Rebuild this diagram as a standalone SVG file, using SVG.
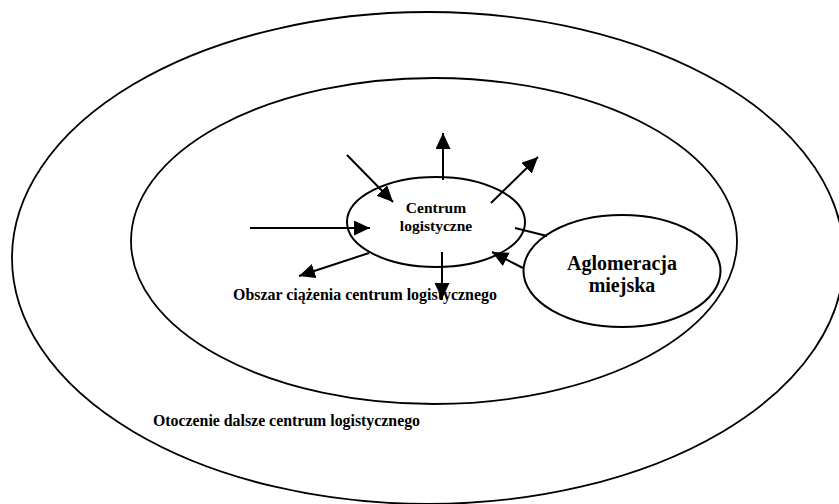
<svg xmlns="http://www.w3.org/2000/svg" width="839" height="504" viewBox="0 0 839 504">
<style>
.shape{fill:none;stroke:#000;stroke-width:2}
.ring{fill:none;stroke:#000;stroke-width:1.8}
.lbl{font-family:"Liberation Serif","Times New Roman",serif;font-weight:bold;fill:#000}
.conn{stroke:#000;stroke-width:2;fill:none}
</style>
<defs>
<marker id="ah" markerUnits="userSpaceOnUse" markerWidth="17" markerHeight="16" refX="16" refY="7.5" orient="auto">
<path d="M0,0 L16,7.5 L0,15 Z" fill="#000"/>
</marker>
</defs>
<rect width="839" height="504" fill="#fff"/>
<g id="otoczenie">
<ellipse class="ring" cx="428" cy="258" rx="416" ry="246"/>
<text class="lbl" x="153" y="426" font-size="16" textLength="267" lengthAdjust="spacingAndGlyphs">Otoczenie dalsze centrum logistycznego</text>
</g>
<g id="obszar">
<ellipse class="ring" cx="434" cy="241" rx="303" ry="163"/>
<text class="lbl" x="233" y="300" font-size="16" textLength="264" lengthAdjust="spacingAndGlyphs">Obszar ciążenia centrum logistycznego</text>
</g>
<g id="centrum">
<ellipse class="shape" cx="436" cy="222" rx="89" ry="45"/>
<text class="lbl" x="436" y="213" font-size="15.5" text-anchor="middle">Centrum</text>
<text class="lbl" x="436" y="231" font-size="15.5" text-anchor="middle">logistyczne</text>
</g>
<g id="aglomeracja">
<ellipse class="shape" cx="622" cy="271" rx="98.5" ry="56"/>
<text class="lbl" x="622" y="270" font-size="20" text-anchor="middle">Aglomeracja</text>
<text class="lbl" x="622" y="292" font-size="20" text-anchor="middle">miejska</text>
</g>
<g id="connectors">
<line class="conn" x1="443" y1="180" x2="443" y2="133" marker-end="url(#ah)"/>
<line class="conn" x1="347" y1="155" x2="393" y2="202" marker-end="url(#ah)"/>
<line class="conn" x1="491" y1="203" x2="538" y2="157" marker-end="url(#ah)"/>
<line class="conn" x1="250" y1="228" x2="370" y2="228" marker-end="url(#ah)"/>
<line class="conn" x1="369" y1="253" x2="299" y2="276" marker-end="url(#ah)"/>
<line class="conn" x1="442" y1="252" x2="442" y2="299" marker-end="url(#ah)"/>
<line class="conn" x1="523" y1="268" x2="492" y2="252" marker-end="url(#ah)"/>
<line class="conn" x1="515" y1="228" x2="547" y2="236"/>
</g>
</svg>
